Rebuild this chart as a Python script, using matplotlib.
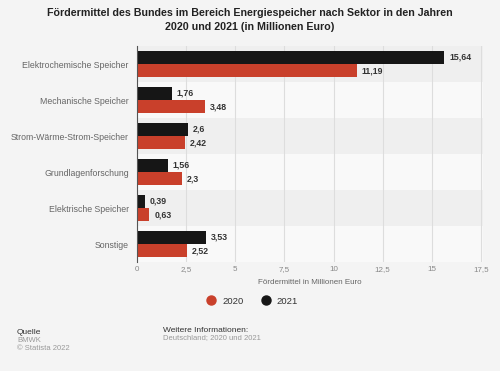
import numpy as np
import matplotlib
matplotlib.use("Agg")
import matplotlib.pyplot as plt
from matplotlib.lines import Line2D

plt.rcParams['font.family'] = ['Liberation Sans', 'DejaVu Sans']

categories = ['Elektrochemische Speicher', 'Mechanische Speicher',
              'Strom-Wärme-Strom-Speicher', 'Grundlagenforschung',
              'Elektrische Speicher', 'Sonstige']
values_2020 = [11.19, 3.48, 2.42, 2.3, 0.63, 2.52]
values_2021 = [15.64, 1.76, 2.6, 1.56, 0.39, 3.53]
x_ticks = [0, 2.5, 5, 7.5, 10, 12.5, 15, 17.5]

red = '#c9402b'
black = '#161616'
bg = '#f4f4f4'


def fmt(v):
    s = ('%.2f' % v).rstrip('0').rstrip('.')
    return s.replace('.', ',')


fig = plt.figure(figsize=(5, 3.71), dpi=100, facecolor=bg)
ax = fig.add_axes([0.274, 1 - 262 / 371, 0.692, 216 / 371])
ax.set_facecolor(bg)

n = len(categories)
y = np.arange(n)
h = 0.36

for i in range(n):
    shade = '#efefef' if i % 2 == 0 else '#f9f9f9'
    ax.axhspan(i - 0.5, i + 0.5, color=shade, zorder=0, lw=0)

ax.barh(y - h / 2 - 0.01, values_2021, height=h, color=black, zorder=3)
ax.barh(y + h / 2 + 0.01, values_2020, height=h, color=red, zorder=3)

for i in range(n):
    ax.text(values_2021[i] + 0.25, y[i] - h / 2 - 0.01, fmt(values_2021[i]),
            va='center', ha='left', fontsize=6.3, fontweight='bold', color='#333333')
    ax.text(values_2020[i] + 0.25, y[i] + h / 2 + 0.01, fmt(values_2020[i]),
            va='center', ha='left', fontsize=6.3, fontweight='bold', color='#333333')

ax.set_ylim(n - 0.5, -0.5)
ax.set_xlim(0, 17.6)
ax.set_xticks(x_ticks)
ax.set_xticklabels([fmt(t) for t in x_ticks], fontsize=5.8, color='#888888')
ax.set_yticks(y)
ax.set_yticklabels(categories, fontsize=6.3, color='#666666')
ax.tick_params(axis='x', length=0, pad=3)
ax.tick_params(axis='y', length=0, pad=6)
ax.xaxis.grid(True, color='#dddddd', lw=0.8, zorder=1)
ax.set_axisbelow(True)
for s in ['top', 'right', 'bottom']:
    ax.spines[s].set_visible(False)
ax.spines['left'].set_color('#555555')
ax.spines['left'].set_linewidth(0.8)
ax.spines['left'].set_zorder(4)
ax.set_xlabel('Fördermittel in Millionen Euro', fontsize=5.8, color='#666666', labelpad=4)

fig.text(0.5, 1 - 20 / 371, 'Fördermittel des Bundes im Bereich Energiespeicher nach Sektor in den Jahren\n2020 und 2021 (in Millionen Euro)',
         ha='center', va='center', fontsize=7.7, fontweight='bold', color='#222222', linespacing=1.55)

handles = [Line2D([], [], marker='o', ls='', color=red, markersize=6.5),
           Line2D([], [], marker='o', ls='', color=black, markersize=6.5)]
fig.legend(handles, ['2020', '2021'], loc='center', bbox_to_anchor=(0.5, 1 - 301 / 371),
           ncol=2, frameon=False, fontsize=6.8, handletextpad=0.2, columnspacing=1.3,
           labelcolor='#333333')

fig.text(17 / 500, 1 - 333 / 371, 'Quelle', fontsize=6, color='#333333', va='center')
fig.text(17 / 500, 1 - 341 / 371, 'BMWK', fontsize=5.5, color='#999999', va='center')
fig.text(17 / 500, 1 - 349 / 371, '© Statista 2022', fontsize=5.5, color='#999999', va='center')
fig.text(163 / 500, 1 - 330 / 371, 'Weitere Informationen:', fontsize=6, color='#333333', va='center')
fig.text(163 / 500, 1 - 338 / 371, 'Deutschland; 2020 und 2021', fontsize=5.5, color='#999999', va='center')

fig.savefig('out.png', dpi=100, facecolor=bg)
